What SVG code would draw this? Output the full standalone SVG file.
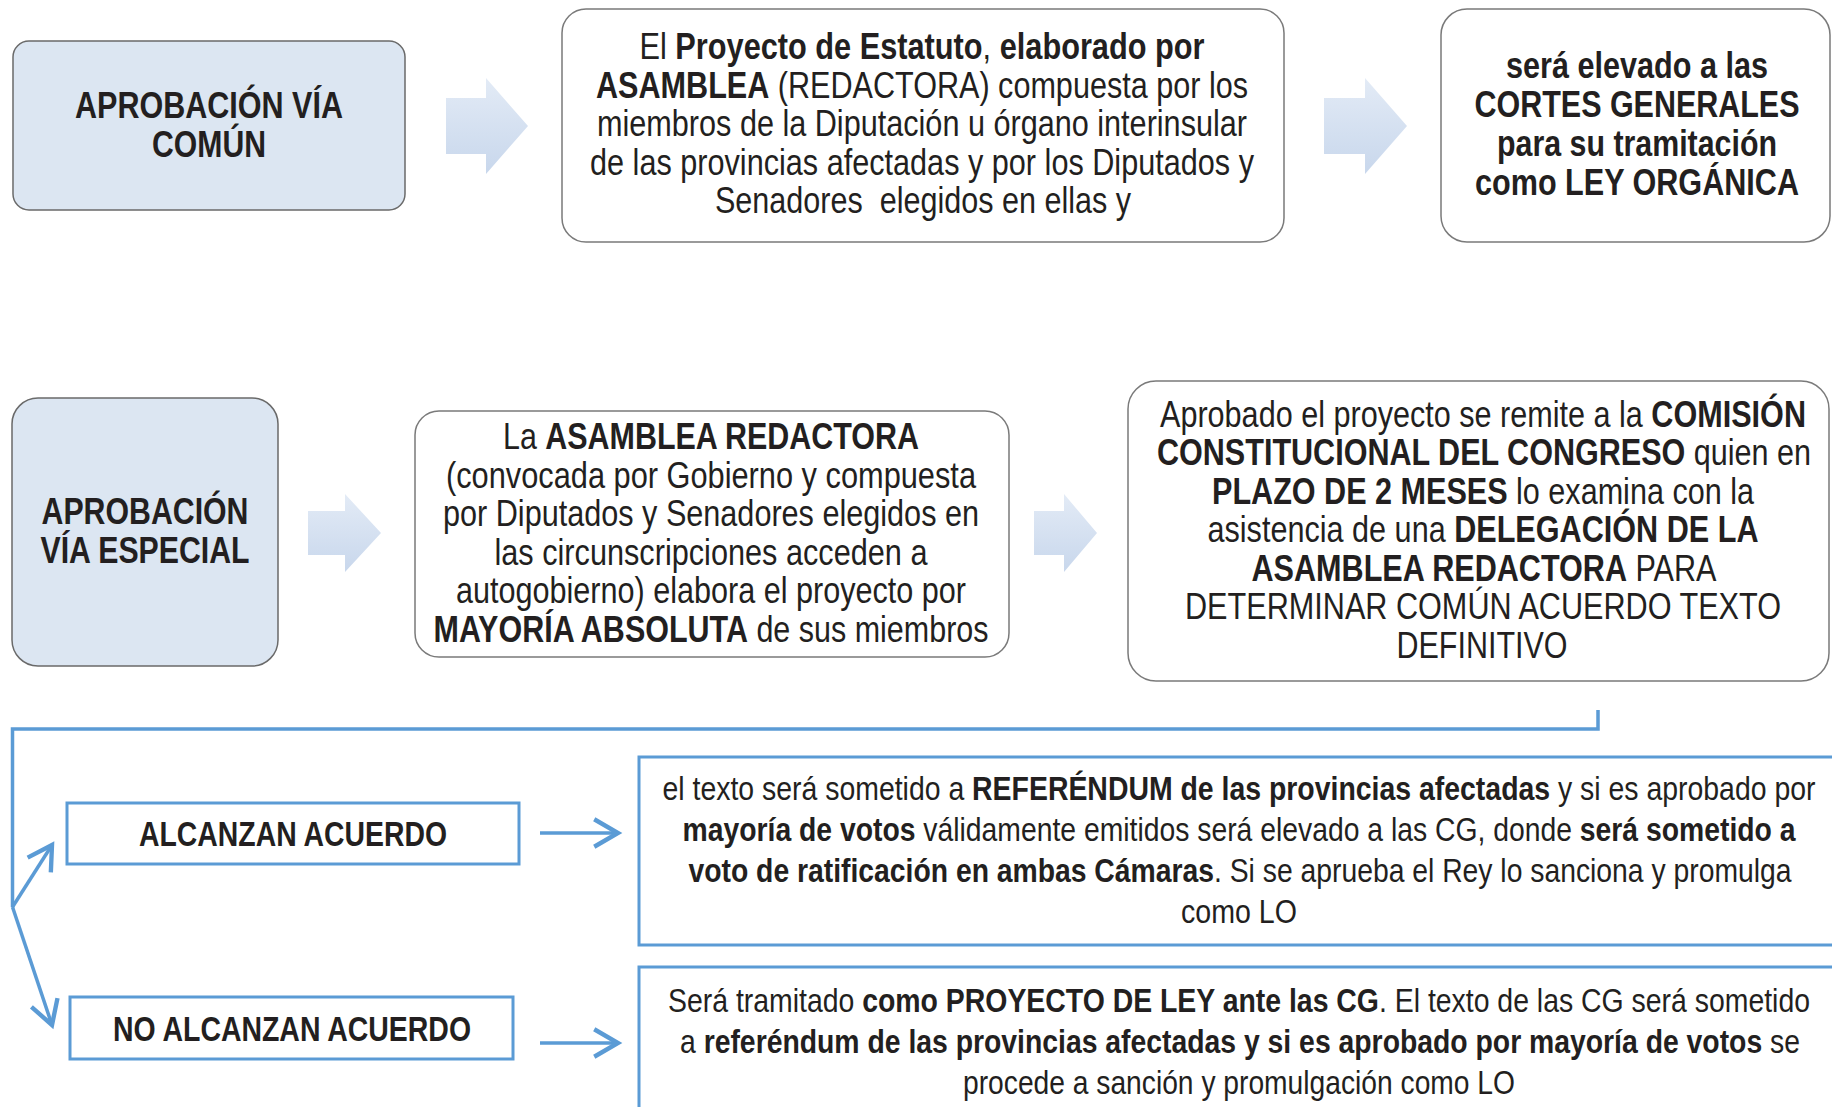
<svg xmlns="http://www.w3.org/2000/svg" width="1832" height="1107" viewBox="0 0 1832 1107">
<defs>
<style>
.t{font-family:"Liberation Sans Narrow","Arial Narrow","Liberation Sans",Arial,sans-serif;fill:#231f20;text-anchor:middle}
.f37{font-size:37px}
.f36{font-size:36px}
.f35{font-size:35px}
.f34{font-size:34px}
.b{font-weight:bold}
.rb{fill:#fff;stroke:#7a7a7a;stroke-width:1.5}
.rbb{fill:#dce6f2;stroke:#6a6a6a;stroke-width:1.5}
.bb{fill:#fff;stroke:#5b9bd5;stroke-width:3}
.blk{fill:url(#grad)}
.con{fill:none;stroke:#5b9bd5;stroke-width:3.5}
</style>
<linearGradient id="grad" x1="0" y1="0" x2="0" y2="1">
<stop offset="0" stop-color="#e3ebf6"/>
<stop offset="1" stop-color="#c8d7ec"/>
</linearGradient>
<marker id="arr" markerUnits="userSpaceOnUse" markerWidth="30" markerHeight="30" refX="20" refY="12" orient="auto" viewBox="0 0 24 24" style="overflow:visible">
<path d="M1,1 L20,12 L1,23" fill="none" stroke="#5b9bd5" stroke-width="3.5"/>
</marker>
</defs>
<rect width="1832" height="1107" fill="#fff"/>

<g id="block-arrows">
<path class="blk" d="M446,98 H486 V78 L528,126 L486,174 V154 H446 Z"/>
<path class="blk" d="M1324,98 H1365 V78 L1407,126 L1365,174 V154 H1324 Z"/>
<path class="blk" d="M308,511 H345 V494 L381,533 L345,572 V555 H308 Z"/>
<path class="blk" d="M1034,511 H1064 V494 L1097,533 L1064,572 V555 H1034 Z"/>
</g>

<g id="connectors">
<path class="con" d="M1598,710 V729 H12.5 V907"/>
<line class="con" x1="12.5" y1="907" x2="52" y2="845" marker-end="url(#arr)"/>
<line class="con" x1="12.5" y1="907" x2="52" y2="1025" marker-end="url(#arr)"/>
<line class="con" x1="540" y1="833" x2="618" y2="833" marker-end="url(#arr)"/>
<line class="con" x1="540" y1="1043" x2="618" y2="1043" marker-end="url(#arr)"/>
</g>

<g id="via-comun">
<rect class="rbb" x="13" y="41" width="392" height="169" rx="16"/>
<text class="t f37 b" x="209" y="118" textLength="268" lengthAdjust="spacingAndGlyphs">APROBACIÓN VÍA</text>
<text class="t f37 b" x="209" y="157" textLength="114" lengthAdjust="spacingAndGlyphs">COMÚN</text>
</g>

<g id="proyecto-estatuto">
<rect class="rb" x="562" y="9" width="722" height="233" rx="24"/>
<text class="t f36" x="922" y="59" textLength="565" lengthAdjust="spacingAndGlyphs">El <tspan class="b">Proyecto de Estatuto</tspan>, <tspan class="b">elaborado por</tspan></text>
<text class="t f36" x="922" y="98" textLength="652" lengthAdjust="spacingAndGlyphs"><tspan class="b">ASAMBLEA</tspan> (REDACTORA) compuesta por los</text>
<text class="t f36" x="922" y="136" textLength="650" lengthAdjust="spacingAndGlyphs">miembros de la Diputación u órgano interinsular</text>
<text class="t f36" x="922" y="175" textLength="664" lengthAdjust="spacingAndGlyphs">de las provincias afectadas y por los Diputados y</text>
<text class="t f36" x="923" y="213" textLength="416" lengthAdjust="spacingAndGlyphs" xml:space="preserve">Senadores  elegidos en ellas y</text>
</g>

<g id="cortes-generales">
<rect class="rb" x="1441" y="9" width="389" height="233" rx="26"/>
<text class="t f36 b" x="1637" y="78" textLength="262" lengthAdjust="spacingAndGlyphs">será elevado a las</text>
<text class="t f36 b" x="1637" y="117" textLength="325" lengthAdjust="spacingAndGlyphs">CORTES GENERALES</text>
<text class="t f36 b" x="1637" y="156" textLength="280" lengthAdjust="spacingAndGlyphs">para su tramitación</text>
<text class="t f36 b" x="1637" y="195" textLength="324" lengthAdjust="spacingAndGlyphs">como LEY ORGÁNICA</text>
</g>

<g id="via-especial">
<rect class="rbb" x="12" y="398" width="266" height="268" rx="26"/>
<text class="t f37 b" x="145" y="524" textLength="207" lengthAdjust="spacingAndGlyphs">APROBACIÓN</text>
<text class="t f37 b" x="145" y="563" textLength="209" lengthAdjust="spacingAndGlyphs">VÍA ESPECIAL</text>
</g>

<g id="asamblea-redactora">
<rect class="rb" x="415" y="411" width="594" height="246" rx="24"/>
<text class="t f36" x="711" y="449" textLength="416" lengthAdjust="spacingAndGlyphs">La <tspan class="b">ASAMBLEA REDACTORA</tspan></text>
<text class="t f36" x="711" y="488" textLength="530" lengthAdjust="spacingAndGlyphs">(convocada por Gobierno y compuesta</text>
<text class="t f36" x="711" y="526" textLength="536" lengthAdjust="spacingAndGlyphs">por Diputados y Senadores elegidos en</text>
<text class="t f36" x="711" y="565" textLength="433" lengthAdjust="spacingAndGlyphs">las circunscripciones acceden a</text>
<text class="t f36" x="711" y="603" textLength="510" lengthAdjust="spacingAndGlyphs">autogobierno) elabora el proyecto por</text>
<text class="t f36" x="711" y="642" textLength="555" lengthAdjust="spacingAndGlyphs"><tspan class="b">MAYORÍA ABSOLUTA</tspan> de sus miembros</text>
</g>

<g id="comision-constitucional">
<rect class="rb" x="1128" y="381" width="701" height="300" rx="28"/>
<text class="t f36" x="1483" y="427" textLength="646" lengthAdjust="spacingAndGlyphs">Aprobado el proyecto se remite a la <tspan class="b">COMISIÓN</tspan></text>
<text class="t f36" x="1484" y="465" textLength="654" lengthAdjust="spacingAndGlyphs"><tspan class="b">CONSTITUCIONAL DEL CONGRESO</tspan> quien en</text>
<text class="t f36" x="1483" y="504" textLength="542" lengthAdjust="spacingAndGlyphs"><tspan class="b">PLAZO DE 2 MESES</tspan> lo examina con la</text>
<text class="t f36" x="1483" y="542" textLength="551" lengthAdjust="spacingAndGlyphs">asistencia de una <tspan class="b">DELEGACIÓN DE LA</tspan></text>
<text class="t f36" x="1484" y="581" textLength="465" lengthAdjust="spacingAndGlyphs"><tspan class="b">ASAMBLEA REDACTORA</tspan> PARA</text>
<text class="t f36" x="1483" y="619" textLength="596" lengthAdjust="spacingAndGlyphs">DETERMINAR COMÚN ACUERDO TEXTO</text>
<text class="t f36" x="1482" y="658" textLength="171" lengthAdjust="spacingAndGlyphs">DEFINITIVO</text>
</g>

<g id="alcanzan-acuerdo">
<rect class="bb" x="67" y="803" width="452" height="61"/>
<text class="t f35 b" x="293" y="846" textLength="308" lengthAdjust="spacingAndGlyphs">ALCANZAN ACUERDO</text>
</g>

<g id="no-alcanzan-acuerdo">
<rect class="bb" x="70" y="997" width="443" height="62"/>
<text class="t f35 b" x="292" y="1041" textLength="358" lengthAdjust="spacingAndGlyphs">NO ALCANZAN ACUERDO</text>
</g>

<g id="referendum-acuerdo">
<rect class="bb" x="639" y="757" width="1220" height="188"/>
<text class="t f34" x="1239" y="800" textLength="1153" lengthAdjust="spacingAndGlyphs">el texto será sometido a <tspan class="b">REFERÉNDUM de las provincias afectadas</tspan> y si es aprobado por</text>
<text class="t f34" x="1239" y="841" textLength="1113" lengthAdjust="spacingAndGlyphs"><tspan class="b">mayoría de votos</tspan> válidamente emitidos será elevado a las CG, donde <tspan class="b">será sometido a</tspan></text>
<text class="t f34" x="1240" y="882" textLength="1103" lengthAdjust="spacingAndGlyphs"><tspan class="b">voto de ratificación en ambas Cámaras</tspan>. Si se aprueba el Rey lo sanciona y promulga</text>
<text class="t f34" x="1239" y="923" textLength="116" lengthAdjust="spacingAndGlyphs">como LO</text>
</g>

<g id="proyecto-ley">
<rect class="bb" x="639" y="967" width="1220" height="200"/>
<text class="t f34" x="1239" y="1012" textLength="1142" lengthAdjust="spacingAndGlyphs">Será tramitado <tspan class="b">como PROYECTO DE LEY ante las CG</tspan>. El texto de las CG será sometido</text>
<text class="t f34" x="1240" y="1053" textLength="1120" lengthAdjust="spacingAndGlyphs">a <tspan class="b">referéndum de las provincias afectadas y si es aprobado por mayoría de votos</tspan> se</text>
<text class="t f34" x="1239" y="1094" textLength="552" lengthAdjust="spacingAndGlyphs">procede a sanción y promulgación como LO</text>
</g>
</svg>
